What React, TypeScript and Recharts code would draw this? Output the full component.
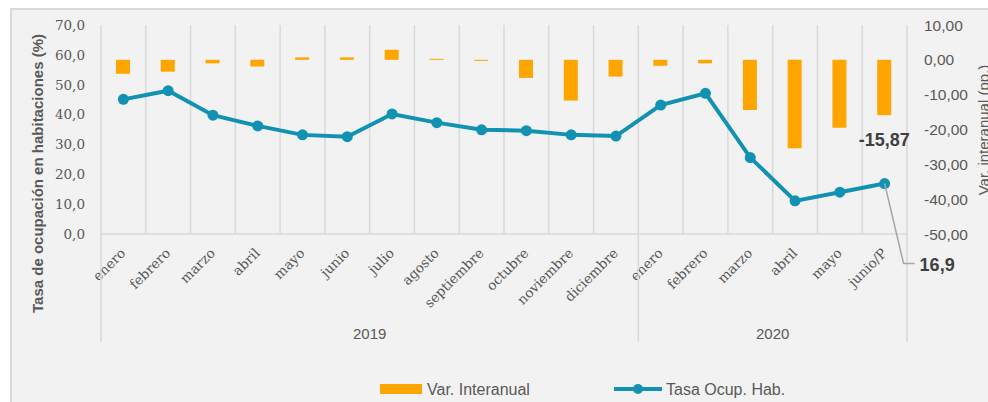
import React from 'react';
import { ComposedChart, Bar, Line, XAxis, YAxis, CartesianGrid, Legend } from 'recharts';

// ---------- data ----------
const months = [
  'enero', 'febrero', 'marzo', 'abril', 'mayo', 'junio', 'julio', 'agosto', 'septiembre',
  'octubre', 'noviembre', 'diciembre', 'enero', 'febrero', 'marzo', 'abril', 'mayo', 'junio/P',
];
const years = [
  { label: '2019', span: 12 },
  { label: '2020', span: 6 },
];
const varInteranual = [
  -4.0, -3.4, -1.0, -1.9, 0.7, 0.7, 2.9, 0.3, -0.3, -5.2, -11.7, -4.8,
  -1.7, -1.0, -14.4, -25.4, -19.5, -15.87,
];
const tasaOcupacion = [
  45.1, 48.0, 39.8, 36.2, 33.2, 32.6, 40.2, 37.3, 34.9, 34.6, 33.2, 32.8,
  43.2, 47.1, 25.6, 11.1, 14.0, 16.9,
];
const leftTicks = [0, 10, 20, 30, 40, 50, 60, 70];
const rightTicks = [-50, -40, -30, -20, -10, 0, 10];

const data = months.map((mes, i) => ({ mes, var: varInteranual[i], tasa: tasaOcupacion[i] }));

// ---------- styles ----------
const W = 988;
const H = 402;
const ORANGE = '#FFA500';
const TEAL = '#1192B3';
const GRID = '#D9D9D9';
const TXT = '#595959';
const SERIF = "'DejaVu Serif', 'Liberation Serif', serif";
const SANS = "'Liberation Sans', Arial, sans-serif";
const PLOT_LEFT = 101;
const PLOT_RIGHT = 907;
const PLOT_TOP = 25;
const PLOT_BOTTOM = 234;
const BAND = (PLOT_RIGHT - PLOT_LEFT) / months.length;

const yearStarts: Record<number, { label: string; span: number }> = {};
{
  let acc = 0;
  years.forEach((yr) => {
    yearStarts[acc] = yr;
    acc += yr.span;
  });
}

const fmtComma = (d: number) => (v: number) => v.toFixed(d).replace('.', ',');

const MonthTick = (props: any) => {
  const { x, y, index, payload } = props;
  const ax = x + 3;
  const ay = y + 20;
  const yr = yearStarts[index];
  const last = index === months.length - 1;
  return (
    <g>
      <text
        x={ax}
        y={ay}
        transform={`rotate(-45 ${ax} ${ay})`}
        textAnchor="end"
        fontFamily={SERIF}
        fontSize={13.5}
        fill={TXT}
      >
        {payload.value}
      </text>
      {yr && (
        <>
          <line x1={x - BAND / 2} x2={x - BAND / 2} y1={y} y2={y + 108} stroke={GRID} strokeWidth={1.5} />
          <text
            x={x - BAND / 2 + (yr.span * BAND) / 2}
            y={y + 99}
            textAnchor="middle"
            dominantBaseline="central"
            fontFamily={SANS}
            fontSize={15}
            fill={TXT}
          >
            {yr.label}
          </text>
        </>
      )}
      {last && (
        <line x1={x + BAND / 2} x2={x + BAND / 2} y1={y} y2={y + 108} stroke={GRID} strokeWidth={1.5} />
      )}
    </g>
  );
};

const gridX = (args: any) => {
  const off = args.offset;
  const n = months.length;
  return Array.from({ length: n + 1 }, (_, i) => off.left + (off.width * i) / n);
};

const LineEndLabel = (props: any) => {
  const { index, value } = props;
  if (index !== months.length - 1) return null;
  const vb = props.viewBox || {};
  const x = props.x ?? vb.x;
  const y = props.y ?? vb.y;
  return (
    <g>
      <polyline
        points={`${x},${y} ${x + 19},${y + 80} ${x + 30},${y + 80}`}
        fill="none"
        stroke="#A6A6A6"
        strokeWidth={1.5}
      />
      <text
        x={x + 35}
        y={y + 81}
        dominantBaseline="central"
        fontFamily={SANS}
        fontWeight="bold"
        fontSize={18}
        fill="#404040"
      >
        {fmtComma(1)(Number(value))}
      </text>
    </g>
  );
};

const BarEndLabel = (props: any) => {
  const { index, value } = props;
  if (index !== months.length - 1) return null;
  const vb = props.viewBox || props;
  const x = vb.x ?? props.x;
  const y = vb.y ?? props.y;
  const w = vb.width ?? props.width;
  const h = vb.height ?? props.height;
  const bottom = Math.max(y, y + h);
  return (
    <text
      x={x + w / 2}
      y={bottom + 25}
      textAnchor="middle"
      dominantBaseline="central"
      fontFamily={SANS}
      fontWeight="bold"
      fontSize={18}
      fill="#404040"
    >
      {fmtComma(2)(Number(value))}
    </text>
  );
};

const LegendContent = (props: any) => {
  const payload = props.payload || [];
  const bar = payload.find((p: any) => p.dataKey === 'var');
  const line = payload.find((p: any) => p.dataKey === 'tasa');
  return (
    <svg width={W} height={26} style={{ display: 'block', overflow: 'visible' }}>
      <rect x={380} y={8} width={42} height={10} fill={ORANGE} />
      <text x={427} y={13} dominantBaseline="central" fontFamily={SANS} fontSize={16} fill={TXT}>
        {bar ? bar.value : 'Var. Interanual'}
      </text>
      <line x1={614} x2={662} y1={13} y2={13} stroke={TEAL} strokeWidth={4} />
      <circle cx={638} cy={13} r={5} fill={TEAL} />
      <text x={666} y={13} dominantBaseline="central" fontFamily={SANS} fontSize={16} fill={TXT}>
        {line ? line.value : 'Tasa Ocup. Hab.'}
      </text>
    </svg>
  );
};

const LeftTitle = () => (
  <text
    x={37}
    y={173.5}
    transform="rotate(-90 37 173.5)"
    textAnchor="middle"
    dominantBaseline="central"
    fontFamily={SANS}
    fontWeight="bold"
    fontSize={15}
    fill={TXT}
  >
    Tasa de ocupación en habitaciones (%)
  </text>
);

const RightTitle = () => (
  <text
    x={989}
    y={130}
    transform="rotate(-90 989 130)"
    textAnchor="middle"
    fontFamily={SANS}
    fontSize={15}
    fill={TXT}
  >
    Var. interanual (pp.)
  </text>
);

export default function App() {
  return (
    <div
      style={{
        position: 'absolute',
        left: 0,
        top: 0,
        width: W,
        height: H,
        overflow: 'hidden',
        background: '#FFFFFF',
      }}
    >
      <div
        style={{
          position: 'absolute',
          left: 10,
          top: 8,
          width: 1010,
          height: 430,
          background: '#F2F2F2',
          border: `2px solid ${GRID}`,
          boxSizing: 'border-box',
        }}
      />
      <div style={{ position: 'absolute', left: 0, top: 0 }}>
        <ComposedChart
          width={W}
          height={H}
          data={data}
          margin={{ top: PLOT_TOP, right: 0, bottom: 0, left: 0 }}
        >
          <CartesianGrid
            horizontal={false}
            vertical
            stroke={GRID}
            strokeWidth={1.5}
            verticalCoordinatesGenerator={gridX}
          />
          <XAxis
            dataKey="mes"
            xAxisId={0}
            height={H - PLOT_BOTTOM}
            interval={0}
            tickLine={false}
            tickSize={0}
            tickMargin={0}
            axisLine={{ stroke: GRID, strokeWidth: 1.5 }}
            tick={<MonthTick />}
            allowDuplicatedCategory
          />
          <YAxis
            yAxisId="left"
            orientation="left"
            width={PLOT_LEFT}
            domain={[0, 70]}
            ticks={leftTicks}
            interval={0}
            tickFormatter={fmtComma(1)}
            axisLine={false}
            tickLine={false}
            tickSize={0}
            tickMargin={16}
            tick={{ fontFamily: SERIF, fontSize: 13.5, fill: TXT }}
            label={<LeftTitle />}
          />
          <YAxis
            yAxisId="right"
            orientation="right"
            width={W - PLOT_RIGHT}
            domain={[-50, 10]}
            ticks={rightTicks}
            interval={0}
            tickFormatter={fmtComma(2)}
            axisLine={false}
            tickLine={false}
            tickSize={0}
            tickMargin={17}
            tick={{ fontFamily: SANS, fontSize: 15.5, fill: TXT, textAnchor: 'start' }}
            label={<RightTitle />}
          />
          <Legend
            verticalAlign="middle"
            align="center"
            layout="horizontal"
            wrapperStyle={{ position: 'absolute', top: 376, left: 0, width: W, height: 26 }}
            content={<LegendContent />}
          />
          <Bar
            yAxisId="right"
            dataKey="var"
            name="Var. Interanual"
            fill={ORANGE}
            barSize={14}
            isAnimationActive={false}
            label={<BarEndLabel />}
          />
          <Line
            yAxisId="left"
            dataKey="tasa"
            name="Tasa Ocup. Hab."
            type="linear"
            stroke={TEAL}
            strokeWidth={4}
            dot={{ r: 5.5, fill: TEAL, stroke: TEAL, strokeWidth: 0 }}
            activeDot={false}
            isAnimationActive={false}
            label={<LineEndLabel />}
          />
        </ComposedChart>
      </div>
    </div>
  );
}
